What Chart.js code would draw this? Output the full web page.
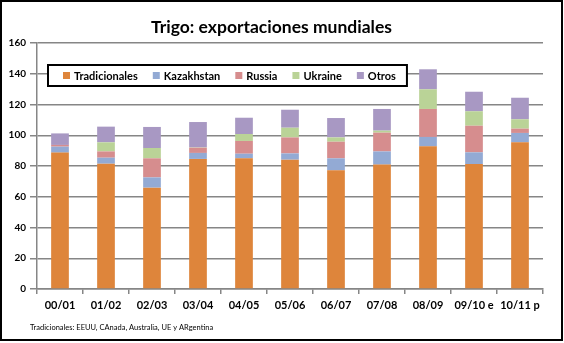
<!DOCTYPE html>
<html>
<head>
<meta charset="utf-8">
<script src="https://cdn.jsdelivr.net/npm/chart.js@4/dist/chart.umd.min.js"></script>
<style>
  html, body { margin: 0; padding: 0; background: #fff; }
  #wrap { width: 564px; height: 343px; position: relative; }
</style>
</head>
<body>
<div id="wrap"><canvas id="c" width="564" height="343"></canvas></div>
<script>
// Campaigns (marketing years); "e" = estimate, "p" = projection
const categories = ['00/01', '01/02', '02/03', '03/04', '04/05', '05/06', '06/07', '07/08', '08/09', '09/10 e', '10/11 p'];

// World wheat exports by origin, million tonnes
const tradicionales = [88.7, 81.5, 65.9, 84.6, 85.0, 84.1, 77.2, 80.9, 92.8, 81.3, 95.4];
const kazakhstan    = [3.9, 3.9, 6.7, 3.9, 3.0, 4.1, 7.8, 8.6, 6.1, 7.6, 6.1];
const russia        = [1.1, 4.1, 12.4, 3.4, 8.3, 10.4, 10.8, 12.2, 18.2, 17.3, 2.8];
const ukraine       = [0, 5.9, 6.7, 0.2, 4.5, 6.3, 2.8, 1.3, 12.8, 9.4, 6.1];
const otros         = [7.5, 10.2, 13.7, 16.5, 10.6, 11.7, 12.6, 14.1, 13.0, 12.7, 14.0];

const seriesNames = ['Tradicionales', 'Kazakhstan', 'Russia', 'Ukraine', 'Otros'];
const seriesColors = ['#DE853B', '#93AAD4', '#D68D8E', '#BAD397', '#A898C3'];
const seriesValues = [tradicionales, kazakhstan, russia, ukraine, otros];

const yTicks = [0, 20, 40, 60, 80, 100, 120, 140, 160];

const titleText = 'Trigo: exportaciones mundiales';
const noteText = 'Tradicionales: EEUU, CAnada, Australia, UE y ARgentina';

const FONT = 'Lato, "Open Sans", sans-serif';
const GRID = '#868686';

// Boxed legend inside the plot, plus footnote and outer frame
const decorations = {
  id: 'decorations',
  afterDraw(chart) {
    const ctx = chart.ctx;
    ctx.save();

    // legend box
    ctx.font = 'bold 11px ' + FONT;
    ctx.textBaseline = 'middle';
    const boxX = 48, boxY = 65, boxH = 21;
    const sq = 7;
    let x = boxX + 15;
    const cy = boxY + boxH / 2;
    const items = [];
    chart.data.datasets.forEach((ds) => {
      const w = ctx.measureText(ds.label).width;
      items.push({ x, label: ds.label, color: ds.backgroundColor });
      x += sq + 4 + w + 15;
    });
    const boxW = (x - 15 + 11) - boxX;
    ctx.fillStyle = '#fff';
    ctx.fillRect(boxX, boxY, boxW, boxH);
    ctx.lineWidth = 2;
    ctx.strokeStyle = '#000';
    ctx.strokeRect(boxX, boxY, boxW, boxH);
    items.forEach((it) => {
      ctx.fillStyle = it.color;
      ctx.fillRect(it.x, cy - sq / 2, sq, sq);
      ctx.fillStyle = '#000';
      ctx.fillText(it.label, it.x + sq + 4, cy + 0.5);
    });

    // footnote
    ctx.font = '7.5px ' + FONT;
    ctx.fillStyle = '#000';
    ctx.textAlign = 'left';
    ctx.fillText(noteText, 30, 328);

    // outer frame
    ctx.lineWidth = 2;
    ctx.strokeStyle = '#000';
    ctx.strokeRect(1, 1, chart.width - 3, chart.height - 4);
    ctx.restore();
  }
};

new Chart(document.getElementById('c'), {
  type: 'bar',
  data: {
    labels: categories,
    datasets: seriesNames.map((name, i) => ({
      label: name,
      data: seriesValues[i],
      backgroundColor: seriesColors[i],
      borderWidth: 0,
      barPercentage: 0.385,
      categoryPercentage: 1.0
    }))
  },
  options: {
    responsive: false,
    animation: false,
    devicePixelRatio: 1,
    layout: { padding: { left: 0, right: 21, top: 0, bottom: 0 } },
    plugins: {
      legend: { display: false },
      tooltip: { enabled: false },
      title: {
        display: true,
        text: titleText,
        color: '#000',
        font: { family: FONT, size: 17.5, weight: 'bold' },
        padding: { top: 17, bottom: 5 }
      }
    },
    scales: {
      x: {
        stacked: true,
        offset: true,
        grid: {
          display: true,
          drawOnChartArea: false,
          drawTicks: true,
          tickLength: 5,
          color: GRID,
          lineWidth: 1.5,
          offset: true
        },
        border: { display: true, color: GRID, width: 1.5 },
        ticks: {
          color: '#000',
          font: { family: FONT, size: 11, weight: 'bold' },
          padding: 5,
          maxRotation: 0,
          autoSkip: false
        },
        afterFit(scale) { scale.height = 54; }
      },
      y: {
        stacked: true,
        min: 0,
        max: 160,
        afterBuildTicks(scale) { scale.ticks = yTicks.map(v => ({ value: v })); },
        grid: {
          color: GRID,
          lineWidth: 1.5,
          drawTicks: true,
          tickLength: 7
        },
        border: { display: true, color: GRID, width: 1.5 },
        ticks: {
          color: '#000',
          font: { family: FONT, size: 10, weight: 'bold' },
          padding: 4
        },
        afterFit(scale) { scale.width = 37; }
      }
    }
  },
  plugins: [decorations]
});
</script>
</body>
</html>
